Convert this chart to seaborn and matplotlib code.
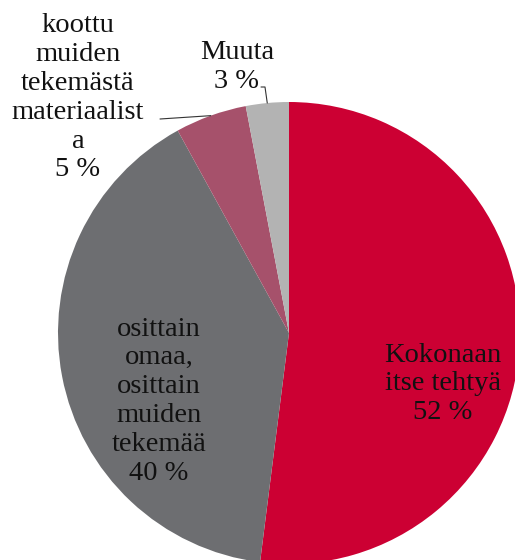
import numpy as np
import matplotlib
matplotlib.use("Agg")
import matplotlib.pyplot as plt
import seaborn as sns

categories = ["Kokonaan\nitse tehtyä", "osittain\nomaa,\nosittain\nmuiden\ntekemää",
              "koottu\nmuiden\ntekemästä\nmateriaalist\na", "Muuta"]
values = [52, 40, 5, 3]
colors = ["#CC0033", "#6D6E71", "#A6516B", "#B3B3B3"]

sns.set_theme(style="white")
plt.rcParams["font.family"] = ["Liberation Serif", "DejaVu Serif"]

W, H = 515, 560
fig = plt.figure(figsize=(W / 100, H / 100), dpi=100)
ax = fig.add_axes([0, 0, 1, 1])

cx, cy, r = 289, H - 333, 231
wedges, _ = ax.pie(values, colors=colors, startangle=90, counterclock=False,
                   center=(cx, cy), radius=r, frame=True,
                   wedgeprops=dict(edgecolor="none", linewidth=0))
ax.set_xlim(0, W)
ax.set_ylim(0, H)
ax.set_aspect("equal")
ax.axis("off")

labels = [f"{c}\n{v} %" for c, v in zip(categories, values)]
fs = 20.5
ls = 1.2
tc = "#111111"
ax.text(443, H - 384, labels[0], ha="center", va="center", fontsize=fs, color=tc, linespacing=ls)
ax.text(159, H - 401, labels[1], ha="center", va="center", fontsize=fs, color=tc, linespacing=ls)
ax.text(78, H - 98, labels[2], ha="center", va="center", fontsize=fs, color=tc, linespacing=ls)
ax.text(237, H - 67, labels[3], ha="center", va="center", fontsize=fs, color=tc, linespacing=ls)

def mid_point(w):
    a = np.deg2rad((w.theta1 + w.theta2) / 2)
    return cx + r * np.cos(a), cy + r * np.sin(a)

mx, my = mid_point(wedges[2])
ax.plot([160, mx], [H - 119, my], color="#333333", lw=0.8)
gx, gy = mid_point(wedges[3])
ax.plot([261, 265, gx], [H - 87, H - 87, gy], color="#333333", lw=0.8)

fig.savefig("out.png", dpi=100)
